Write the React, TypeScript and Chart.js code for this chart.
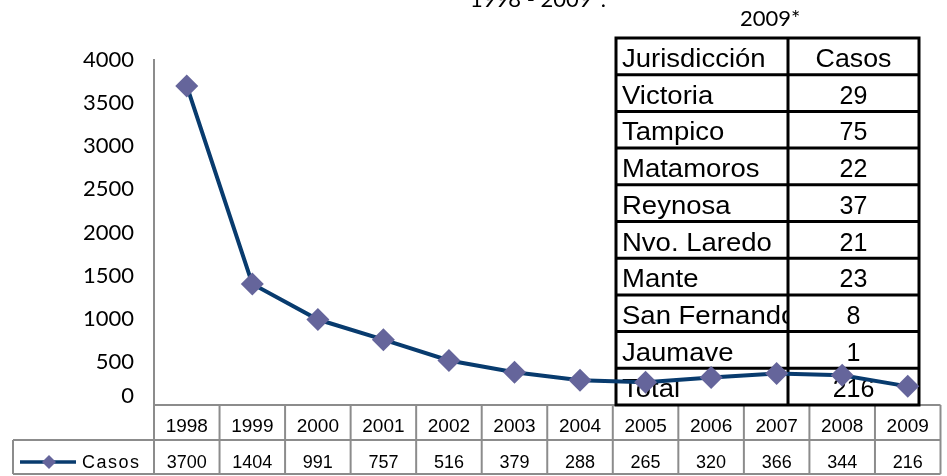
import React, { useEffect, useRef } from 'react';
import { Chart, registerables } from 'chart.js';

Chart.register(...registerables);

// ---- data ----
const years = ['1998', '1999', '2000', '2001', '2002', '2003', '2004', '2005', '2006', '2007', '2008', '2009'];
const casos = [3700, 1404, 991, 757, 516, 379, 288, 265, 320, 366, 344, 216];
const seriesName = 'Casos';
const yMin = 0;
const yMax = 4000;
const yStep = 500;
const titleText = '1998 - 2009*.';
const subtitleText = '2009*';
const tableHeader = ['Jurisdicción', 'Casos'];
const jurisdicciones = ['Victoria', 'Tampico', 'Matamoros', 'Reynosa', 'Nvo. Laredo', 'Mante', 'San Fernando', 'Jaumave', 'Total'];
const casosJurisdiccion = [29, 75, 22, 37, 21, 23, 8, 1, 216];

const LINE_COLOR = '#083b6e';
const MARKER_COLOR = '#65659b';
const GRID_GRAY = '#8c8c8c';

function line(ctx: CanvasRenderingContext2D, x1: number, y1: number, x2: number, y2: number) {
  ctx.beginPath();
  ctx.moveTo(x1, y1);
  ctx.lineTo(x2, y2);
  ctx.stroke();
}

const overlayPlugin = {
  id: 'overlay',
  beforeDatasetsDraw(chart: any) {
    const { ctx, chartArea, scales } = chart;
    const xs = scales.x;
    const ys = scales.y;
    ctx.save();

    // titles
    ctx.fillStyle = '#000';
    ctx.font = '22px Lato';
    ctx.textAlign = 'left';
    ctx.textBaseline = 'alphabetic';
    ctx.fillText(titleText, 470, 7);
    ctx.fillText(subtitleText, 740, 26);

    // zero tick label (lifted above the data table)
    ctx.textAlign = 'right';
    ctx.fillText(String(yMin), 134, ys.getPixelForValue(yMin) - 2);

    // ---- bottom data table ----
    const top = chartArea.bottom;
    const row1 = top + 35;
    const row2 = row1 + 34;
    const left = chartArea.left;
    const right = chartArea.right;
    const colW = xs.getPixelForValue(1) - xs.getPixelForValue(0);
    const legendLeft = 13;
    ctx.strokeStyle = GRID_GRAY;
    ctx.lineWidth = 2;
    line(ctx, left, top, right, top);
    line(ctx, legendLeft, row1, right, row1);
    line(ctx, legendLeft, row2, right, row2);
    line(ctx, legendLeft, row1, legendLeft, row2);
    for (let i = 0; i <= years.length; i++) {
      const xp = xs.getPixelForValue(0) - colW / 2 + i * colW;
      line(ctx, xp, top, xp, row2);
    }
    ctx.fillStyle = '#000';
    ctx.textAlign = 'center';
    ctx.font = '19px "Liberation Sans"';
    years.forEach((yr, i) => ctx.fillText(yr, xs.getPixelForValue(i), row1 - 8));
    ctx.font = '18px "Liberation Sans"';
    casos.forEach((v, i) => ctx.fillText(String(v), xs.getPixelForValue(i), row2 - 6));

    // legend key
    ctx.strokeStyle = LINE_COLOR;
    ctx.lineWidth = 3.5;
    line(ctx, 20, 462, 76, 462);
    ctx.fillStyle = MARKER_COLOR;
    ctx.beginPath();
    ctx.moveTo(49, 462 - 7);
    ctx.lineTo(56, 462);
    ctx.lineTo(49, 462 + 7);
    ctx.lineTo(42, 462);
    ctx.closePath();
    ctx.fill();
    ctx.fillStyle = '#000';
    ctx.textAlign = 'left';
    ctx.font = '18px "Liberation Sans"';
    (ctx as any).letterSpacing = '1.5px';
    ctx.fillText(seriesName, 82, row2 - 6);
    (ctx as any).letterSpacing = '0px';

    // ---- inset table ----
    const tL = 616, tR = 919, tD = 788, tT = 38;
    const nRows = jurisdicciones.length + 1;
    const rh = (chartArea.bottom - tT) / nRows;
    const names = [tableHeader[0], ...jurisdicciones];
    const vals = [tableHeader[1], ...casosJurisdiccion.map(String)];
    ctx.font = '25px "Liberation Sans"';
    for (let r = 0; r < nRows; r++) {
      const rt = tT + r * rh;
      ctx.save();
      ctx.beginPath();
      ctx.rect(tL, rt, tD - tL, rh);
      ctx.clip();
      ctx.translate(tL + 6, rt + 29);
      ctx.scale(1.1, 1);
      ctx.textAlign = 'left';
      ctx.fillText(names[r], 0, 0);
      ctx.restore();
      ctx.save();
      ctx.textAlign = 'center';
      ctx.translate((tD + tR) / 2, rt + 29);
      if (r === 0) ctx.scale(1.07, 1);
      ctx.fillText(vals[r], 0, 0);
      ctx.restore();
    }
    ctx.strokeStyle = '#000';
    ctx.lineWidth = 3;
    ctx.strokeRect(tL, tT, tR - tL, nRows * rh);
    line(ctx, tD, tT, tD, tT + nRows * rh);
    for (let r = 1; r < nRows; r++) {
      line(ctx, tL, tT + r * rh, tR, tT + r * rh);
    }
    ctx.restore();
  },
};

export default function App() {
  const canvasRef = useRef<HTMLCanvasElement | null>(null);

  useEffect(() => {
    const canvas = canvasRef.current;
    if (!canvas) return;
    const chart = new Chart(canvas, {
      type: 'line',
      data: {
        labels: years,
        datasets: [
          {
            label: seriesName,
            data: casos,
            borderColor: LINE_COLOR,
            borderWidth: 4,
            backgroundColor: MARKER_COLOR,
            pointStyle: 'rectRot',
            pointRadius: 11.5,
            pointBackgroundColor: MARKER_COLOR,
            pointBorderWidth: 0,
            pointBorderColor: MARKER_COLOR,
            tension: 0,
            fill: false,
          },
        ],
      },
      options: {
        responsive: false,
        animation: false,
        devicePixelRatio: 1,
        layout: { padding: { left: 0, right: 0, top: 60, bottom: 71 } },
        plugins: {
          legend: { display: false },
          title: { display: false },
          tooltip: { enabled: false },
        },
        scales: {
          x: {
            display: false,
            offset: true,
          },
          y: {
            min: yMin,
            max: yMax,
            grid: { display: false, drawTicks: false },
            border: { display: true, color: GRID_GRAY, width: 2 },
            ticks: {
              stepSize: yStep,
              padding: 20,
              color: '#000',
              font: { family: 'Lato', size: 22 },
              callback: (v: any) => (Number(v) === yMin ? '' : String(v)),
            },
            afterFit: (scale: any) => {
              scale.width = 154;
            },
          },
        },
      },
      plugins: [overlayPlugin],
    });
    return () => chart.destroy();
  }, []);

  return (
    <div
      style={{
        position: 'fixed',
        left: 0,
        top: 0,
        width: 947,
        height: 476,
        overflow: 'hidden',
        background: '#fff',
      }}
    >
      <canvas ref={canvasRef} width={952} height={476} style={{ width: 952, height: 476, display: 'block' }} />
    </div>
  );
}
